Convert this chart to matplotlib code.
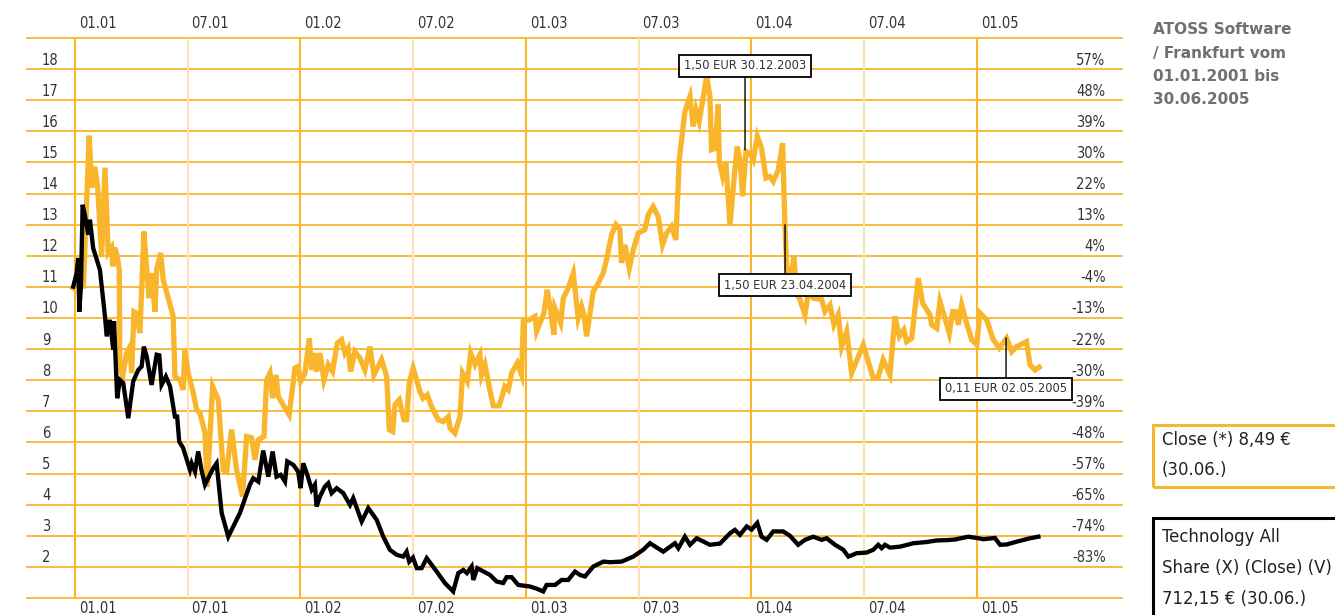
import matplotlib
matplotlib.use("Agg")
import matplotlib.pyplot as plt
from matplotlib.patches import Rectangle

# Data: x in months since 01.01.2001, values in EUR
atoss_month = [-0.09, 0.27, 0.45, 0.76, 0.89, 1.06, 1.21, 1.42, 1.60, 1.77, 1.95, 2.01, 2.13, 2.25, 2.36,
               2.39, 2.54, 2.75, 2.93, 3.02, 3.14, 3.25, 3.46, 3.67, 3.85, 3.95, 4.08, 4.26, 4.35, 4.56,
               4.70, 5.23, 5.32, 5.59, 5.76, 5.85, 6.03, 6.30, 6.48, 6.65, 6.92, 7.04, 7.33, 7.63, 7.89,
               8.07, 8.34, 8.60, 8.92, 9.14, 9.40, 9.58, 9.75, 9.94, 10.06, 10.20, 10.38, 10.52, 10.70,
               10.82, 11.08, 11.40, 11.71, 11.88, 12.01, 12.24, 12.47, 12.60, 12.72, 12.86, 13.04, 13.25,
               13.48, 13.71, 13.96, 14.19, 14.37, 14.54, 14.67, 14.90, 15.17, 15.43, 15.70, 15.91, 16.14,
               16.32, 16.59, 16.73, 16.91, 17.03, 17.26, 17.51, 17.65, 17.79, 18.00, 18.36, 18.53, 18.75,
               18.98, 19.33, 19.60, 19.87, 19.96, 20.22, 20.49, 20.63, 20.88, 21.06, 21.29, 21.55, 21.64,
               21.82, 22.08, 22.26, 22.58, 22.88, 23.06, 23.24, 23.54, 23.77, 23.86, 24.18, 24.48, 24.57,
               24.75, 24.96, 25.13, 25.28, 25.49, 25.54, 25.85, 25.99, 26.25, 26.52, 26.78, 26.96, 27.09,
               27.23, 27.41, 27.58, 27.85, 28.11, 28.29, 28.56, 28.79, 29.00, 29.09, 29.27, 29.50, 29.71,
               29.98, 30.33, 30.51, 30.77, 31.04, 31.27, 31.49, 31.75, 31.98, 32.16, 32.46, 32.73, 32.90,
               33.05, 33.22, 33.62, 33.79, 33.88, 34.06, 34.23, 34.29, 34.47, 34.64, 34.86, 35.07, 35.24,
               35.39, 35.53, 35.71, 35.92, 36.10, 36.31, 36.54, 36.77, 36.98, 37.16, 37.43, 37.66, 37.78,
               37.87, 38.01, 38.16, 38.26, 38.41, 38.58, 38.85, 39.02, 39.29, 39.74, 39.91, 40.18, 40.39,
               40.62, 40.80, 41.07, 41.33, 41.95, 42.48, 42.75, 43.01, 43.37, 43.64, 43.87, 44.11, 44.26,
               44.53, 44.88, 45.11, 45.50, 45.59, 45.86, 46.03, 46.30, 46.53, 46.71, 46.88, 47.01, 47.19,
               47.45, 47.72, 47.99, 48.16, 48.52, 48.87, 49.19, 49.58, 49.85, 50.11, 50.64, 50.82, 51.09,
               51.32]
atoss_close = [10.96, 11.3, 10.95, 15.86, 14.19, 14.86, 14.2, 11.98, 14.83, 12.1, 12.26, 11.66, 12.26, 11.98, 11.55,
               8.44, 8.12, 8.88, 9.08, 8.23, 10.2, 10.16, 9.52, 12.78, 11.33, 10.64, 11.44, 10.2, 11.55, 12.09,
               11.23, 10.05, 8.12, 8.01, 7.69, 8.98, 8.23, 7.58, 7.05, 6.95, 6.31, 4.58, 7.8, 7.37, 5.12,
               5.06, 6.41, 5.12, 4.26, 6.19, 6.15, 5.44, 6.08, 6.15, 6.19, 8.01, 8.23, 7.42, 8.17,
               7.48, 7.21, 6.89, 8.39, 8.44, 7.96, 8.23, 9.35, 8.33, 8.87, 8.28, 8.87, 8.01,
               8.5, 8.28, 9.19, 9.30, 8.87, 9.03, 8.28, 8.92, 8.71, 8.33, 9.08, 8.17, 8.44,
               8.66, 8.12, 6.41, 6.35, 7.21, 7.37, 6.73, 6.73, 7.91, 8.39, 7.64, 7.42, 7.53,
               7.15, 6.73, 6.67, 6.83, 6.46, 6.30, 6.83, 8.23, 7.96, 8.87, 8.5, 8.82, 8.17,
               8.5, 7.69, 7.18, 7.18, 7.8, 7.69, 8.23, 8.55, 8.17, 9.89, 9.94, 10.05, 9.57,
               9.84, 10.16, 10.91, 10.37, 9.46, 10.32, 9.84, 10.64, 10.96, 11.44, 9.99, 10.37, 10.1,
               9.41, 10.16, 10.85, 11.12, 11.44, 11.87, 12.68, 13.0, 12.84, 11.77, 12.35, 11.6, 12.19,
               12.73, 12.84, 13.32, 13.58, 13.26, 12.35, 12.73, 12.94, 12.51, 15.09, 16.64, 17.12, 16.16,
               16.69, 16.32, 17.77, 17.12, 15.41, 15.45, 16.86, 15.03, 14.55, 14.98, 13.0, 14.44, 15.51,
               15.1, 13.91, 15.35, 15.3, 15.09, 15.84, 15.46, 14.5, 14.55, 14.39, 14.76, 15.62, 13.05,
               11.66, 11.23, 11.6, 11.98, 10.8, 10.59, 10.1, 10.8, 10.64, 10.59, 10.21, 10.42, 9.78,
               10.1, 9.08, 9.57, 8.23, 9.14, 8.07, 8.12, 8.66, 8.17, 10.05, 9.41, 9.62, 9.24,
               9.35, 11.28, 10.48, 10.1, 9.78, 9.67, 10.53, 9.99, 9.51, 10.21, 10.2, 9.78, 10.42,
               9.84, 9.3, 9.14, 10.16, 9.94, 9.3, 9.03, 9.35, 8.92, 9.08, 9.24, 8.5, 8.33,
               8.42]

tech_month = [-0.09, 0.09, 0.18, 0.23, 0.32, 0.41, 0.53, 0.71, 0.80, 0.97, 1.33, 1.60, 1.69, 1.86, 2.04,
              2.08, 2.25, 2.39, 2.57, 2.84, 3.10, 3.37, 3.55, 3.67, 3.82, 4.08, 4.35, 4.49, 4.61, 4.84,
              5.06, 5.32, 5.44, 5.55, 5.76, 6.12, 6.21, 6.39, 6.56, 6.74, 6.92, 7.13, 7.36, 7.54, 7.81,
              8.16, 8.78, 9.31, 9.49, 9.76, 10.02, 10.29, 10.52, 10.73, 10.95, 11.18, 11.30, 11.62, 11.88,
              12.01, 12.15, 12.40, 12.60, 12.77, 12.86, 13.04, 13.30, 13.48, 13.66, 13.93, 14.28, 14.64,
              14.81, 15.26, 15.61, 16.06, 16.41, 16.76, 17.12, 17.47, 17.65, 17.79, 17.99, 18.19, 18.45,
              18.72, 19.25, 19.69, 20.13, 20.40, 20.67, 20.86, 21.11, 21.20, 21.41, 22.09, 22.44, 22.79,
              22.97, 23.24, 23.59, 24.21, 24.57, 24.92, 25.10, 25.55, 25.90, 26.25, 26.61, 26.88, 27.14,
              27.58, 28.12, 28.47, 29.09, 29.71, 30.24, 30.60, 31.31, 31.93, 32.11, 32.46, 32.73, 33.09,
              33.79, 34.33, 34.86, 35.12, 35.39, 35.75, 36.01, 36.31, 36.54, 36.81, 37.16, 37.69, 38.05,
              38.49, 38.85, 39.29, 39.74, 40.00, 40.45, 40.89, 41.16, 41.60, 42.13, 42.48, 42.75, 42.93,
              43.11, 43.37, 43.91, 44.61, 45.33, 45.86, 46.39, 46.83, 47.54, 47.99, 48.34, 48.96, 49.23,
              49.58, 50.11, 50.82, 51.27]
tech_close = [11.01, 11.44, 11.93, 10.2, 11.0, 13.64, 13.3, 12.68, 13.16, 12.25, 11.55, 10.05, 9.41, 9.94, 8.98,
              9.9, 7.42, 8.01, 7.91, 6.78, 7.96, 8.33, 8.44, 9.08, 8.76, 7.85, 8.82, 8.8, 7.85, 8.12,
              7.8, 6.83, 6.83, 6.03, 5.82, 5.12, 5.33, 5.06, 5.71, 5.1, 4.64, 4.9, 5.17, 5.33, 3.73,
              2.97, 3.73, 4.64, 4.85, 4.74, 5.74, 4.9, 5.71, 4.9, 4.96, 4.74, 5.39, 5.28, 5.06,
              4.53, 5.33, 4.9, 4.48, 4.64, 3.94, 4.26, 4.58, 4.69, 4.37, 4.53, 4.37, 3.99,
              4.21, 3.46, 3.89, 3.51, 2.97, 2.55, 2.39, 2.33, 2.49, 2.17, 2.3, 1.96, 1.96,
              2.28, 1.85, 1.48, 1.21, 1.80, 1.9, 1.8, 2.01, 1.58, 1.96, 1.74, 1.53, 1.48,
              1.67, 1.67, 1.42, 1.37, 1.3, 1.21, 1.42, 1.42, 1.58, 1.58, 1.85, 1.74, 1.69,
              2.01, 2.17, 2.15, 2.17, 2.33, 2.55, 2.76, 2.49, 2.76, 2.6, 2.97, 2.71, 2.92,
              2.71, 2.75, 3.08, 3.19, 3.03, 3.3, 3.2, 3.41, 2.97, 2.87, 3.14, 3.14, 3.0,
              2.71, 2.87, 2.97, 2.87, 2.92, 2.71, 2.55, 2.33, 2.44, 2.46, 2.55, 2.71, 2.6,
              2.71, 2.62, 2.65, 2.76, 2.8, 2.85, 2.86, 2.88, 2.97, 2.93, 2.89, 2.93, 2.71,
              2.72, 2.81, 2.92, 2.97]

grid_values = list(range(1, 20))
left_labels = [str(v) for v in range(2, 19)]
right_labels = ['-83%', '-74%', '-65%', '-57%', '-48%', '-39%', '-30%', '-22%', '-13%', '-4%',
                '4%', '13%', '22%', '30%', '39%', '48%', '57%']
label_values = list(range(2, 19))
date_ticks = [0, 6, 12, 18, 24, 30, 36, 42, 48]
date_labels = ['01.01', '07.01', '01.02', '07.02', '01.03', '07.03', '01.04', '07.04', '01.05']

# annotations: (text, month, value at line end, box value)
dividends = [('1,50 EUR 30.12.2003', 35.66, 15.41, 18.11),
             ('1,50 EUR 23.04.2004', 37.79, 13.0, 11.05),
             ('0,11 EUR 02.05.2005', 49.55, 9.36, 7.72)]

title_lines = ['ATOSS Software', '/ Frankfurt vom', '01.01.2001 bis', '30.06.2005']

ORANGE = '#f9b52b'
PALE = '#fde3b2'
cond = dict(family='DejaVu Sans', stretch='condensed')

fig = plt.figure(figsize=(13.35, 6.15), dpi=100)
ax = fig.add_axes([27 / 1335, 17 / 615, 1095 / 1335, 560 / 615])
ax.set_xlim(-2.55, 55.72)
ax.set_ylim(1, 19)
ax.set_axis_off()

for v in grid_values:
    ax.axhline(v, color=ORANGE, lw=1.3, zorder=1, clip_on=False)
for m in date_ticks:
    ax.axvline(m, color=ORANGE if m % 12 == 0 else PALE, lw=1.5, zorder=1)

for v, lab in zip(label_values, left_labels):
    ax.text(-1.75, v + 0.29, lab, ha='left', va='center', fontsize=10.5, color='#333333', **cond)
for v, lab in zip(label_values, right_labels):
    ax.text(54.85, v + 0.29, lab, ha='right', va='center', fontsize=10.5, color='#333333', **cond)
for m, lab in zip(date_ticks, date_labels):
    ax.text(m + 0.2, 19.45, lab, ha='left', va='center', fontsize=10.5, color='#333333',
            clip_on=False, **cond)
    ax.text(m + 0.2, 0.66, lab, ha='left', va='center', fontsize=10.5, color='#333333',
            clip_on=False, **cond)

ax.plot(atoss_month, atoss_close, color=ORANGE, lw=3.8, solid_joinstyle='miter', zorder=3)
ax.plot(tech_month, tech_close, color='black', lw=3.1, solid_joinstyle='miter', zorder=4)

for text, m, v_point, v_box in dividends:
    ax.annotate(text, xy=(m, v_point), xytext=(m, v_box), ha='center', va='center',
                fontsize=8.3, color='#333333',
                bbox=dict(boxstyle='square,pad=0.4', fc='white', ec='black', lw=1.3),
                arrowprops=dict(arrowstyle='-', color='black', lw=1.0, shrinkA=0, shrinkB=0),
                zorder=6)

for i, line in enumerate(title_lines):
    fig.text(1153 / 1335, 1 - (30 + 23.3 * i) / 615, line, ha='left', va='center',
             fontsize=11, fontweight='bold', color='#707070')

fig.add_artist(Rectangle((1153 / 1335, 128 / 615), 0.2, 62 / 615, transform=fig.transFigure,
                         fill=False, ec=ORANGE, lw=2.2))
fig.text(1162 / 1335, 1 - 440 / 615, 'Close (*) 8,49 €', ha='left', va='center', fontsize=13.2,
         color='#222222', **cond)
fig.text(1162 / 1335, 1 - 470 / 615, '(30.06.)', ha='left', va='center', fontsize=13.2,
         color='#222222', **cond)

fig.add_artist(Rectangle((1153 / 1335, -0.02), 0.2, 97 / 615 + 0.02, transform=fig.transFigure,
                         fill=False, ec='black', lw=2.2))
for i, line in enumerate(['Technology All', 'Share (X) (Close) (V)', '712,15 € (30.06.)']):
    fig.text(1162 / 1335, 1 - (537 + 31 * i) / 615, line, ha='left', va='center', fontsize=13.2,
             color='#222222', **cond)

fig.savefig('out.png', dpi=100)
